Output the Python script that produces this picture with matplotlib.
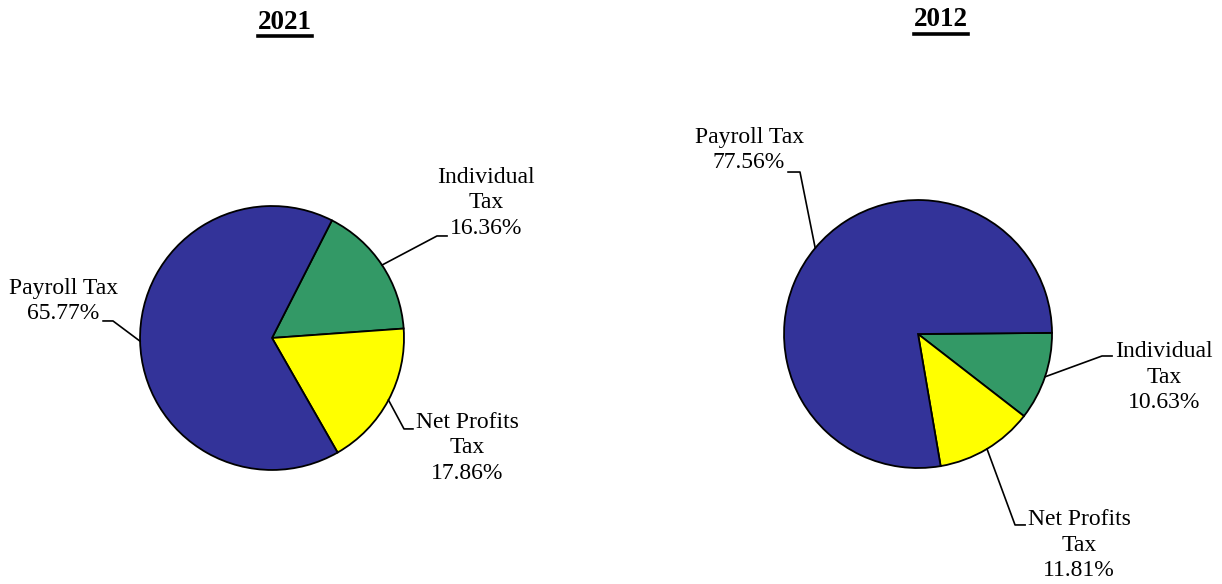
import numpy as np
import matplotlib
matplotlib.use("Agg")
import matplotlib.pyplot as plt
from matplotlib.lines import Line2D

plt.rcParams['font.family'] = ['Liberation Serif', 'DejaVu Serif']

# ── Data ──
categories = ["Individual Tax", "Net Profits Tax", "Payroll Tax"]
label_text = ["Individual\nTax", "Net Profits\nTax", "Payroll Tax"]
share_2021 = [16.36, 17.86, 65.77]
share_2012 = [10.63, 11.81, 77.56]
colors = ["#339966", "#FFFF00", "#333399"]

fig = plt.figure(figsize=(12.22, 5.84), dpi=100)


def draw_pie(rect, values, start, title, title_xy, label_pos, elbows):
    ax = fig.add_axes(rect)
    wedges, _ = ax.pie(values, colors=colors, startangle=start, counterclock=False,
                       wedgeprops=dict(edgecolor="black", linewidth=1.3))
    ax.set_xlim(-1, 1)
    ax.set_ylim(-1, 1)
    ax.set_aspect("equal")
    for w, v, txt, pos, (ex, ey, hx) in zip(wedges, values, label_text, label_pos, elbows):
        mid = np.deg2rad((w.theta1 + w.theta2) / 2)
        px, py = np.cos(mid), np.sin(mid)
        ax.plot([px, ex, hx], [py, ey, ey], color="black", lw=1.2, clip_on=False)
        ax.text(pos[0], pos[1], f"{txt}\n{v:.2f}%", ha="center", va="center",
                multialignment="center", fontsize=17, linespacing=1.27, clip_on=False)
    t = fig.text(title_xy[0], title_xy[1], title, ha="center", va="center",
                 fontsize=19.5, fontweight="bold")
    return t


t1 = draw_pie([0.1146, 0.1952, 0.2160, 0.4521], share_2021, 63, "2021", (0.2335, 0.962),
              [(1.621, 1.023), (1.477, -0.833), (-1.583, 0.280)],
              [(1.25, 0.773, 1.326), (1.0, -0.689, 1.068), (-1.205, 0.129, -1.280)])
t2 = draw_pie([0.6416, 0.1986, 0.2193, 0.4589], share_2012, 0.5, "2012", (0.770, 0.966),
              [(1.836, -0.321), (1.201, -1.575), (-1.261, 1.373)],
              [(1.373, -0.164, 1.448), (0.724, -1.425, 0.799), (-0.881, 1.209, -0.970)])

# underline the titles
fig.canvas.draw()
renderer = fig.canvas.get_renderer()
for t in (t1, t2):
    bb = t.get_window_extent(renderer).transformed(fig.transFigure.inverted())
    y = bb.y0 - 0.002
    fig.add_artist(Line2D([bb.x0, bb.x1], [y, y], transform=fig.transFigure,
                          color="black", lw=2.6))

fig.savefig("out.png", dpi=100)
